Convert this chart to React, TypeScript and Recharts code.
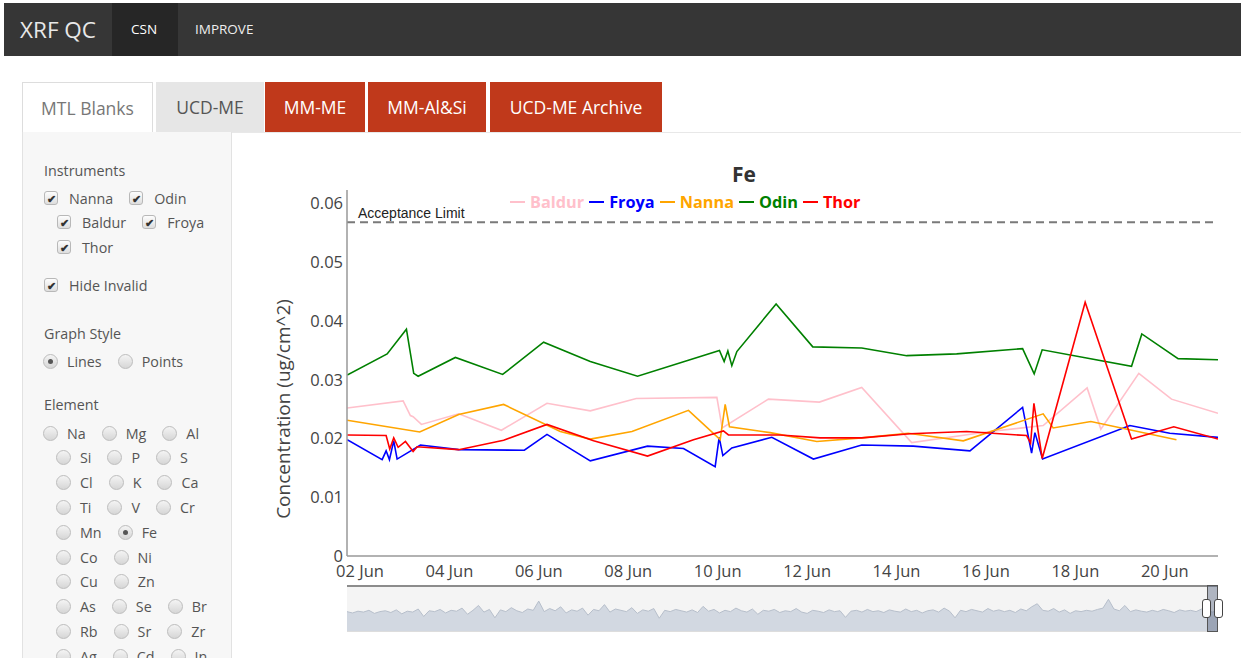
import React from "react";
import { Area, AreaChart, Line, LineChart, ReferenceLine, XAxis, YAxis } from "recharts";

// days counted from 02 Jun 00:00
const dayTicks = [0, 2, 4, 6, 8, 10, 12, 14, 16, 18];
const concTicks = [0, 0.01, 0.02, 0.03, 0.04, 0.05, 0.06];
const acceptanceLimit = 0.0568;

const baldur = [
  [-0.286, 0.0252], [0.965, 0.0264], [1.128, 0.0239], [1.189, 0.0237], [1.374, 0.0224],
  [2.208, 0.0242], [3.162, 0.0214], [4.183, 0.026], [5.151, 0.0247], [6.179, 0.0268],
  [7.982, 0.027], [8.101, 0.0218], [9.135, 0.0267], [10.275, 0.0262], [11.222, 0.0287],
  [12.339, 0.0193], [14.089, 0.0212], [15.28, 0.0222], [16.263, 0.0286], [16.57, 0.0216],
  [17.419, 0.0311], [18.15, 0.0267], [19.19, 0.0243]
];

const froya = [
  [-0.286, 0.0198], [0.496, 0.0164], [0.585, 0.0179], [0.659, 0.0164], [0.755, 0.0196],
  [0.831, 0.0165], [1.352, 0.0189], [2.208, 0.0181], [3.676, 0.018], [4.183, 0.0207],
  [5.151, 0.0162], [6.431, 0.0187], [7.236, 0.0183], [7.944, 0.0152], [8.034, 0.0202],
  [8.116, 0.0171], [8.317, 0.0184], [9.211, 0.0202], [10.141, 0.0165], [11.222, 0.0189],
  [12.375, 0.0187], [13.642, 0.0179], [14.82, 0.0253], [15.021, 0.0175], [15.095, 0.021],
  [15.267, 0.0165], [17.218, 0.0222], [18.112, 0.0209], [19.19, 0.0202]
];

const nanna = [
  [-0.286, 0.0231], [1.336, 0.0211], [2.208, 0.0241], [3.213, 0.0258], [4.48, 0.0212],
  [5.151, 0.0199], [6.083, 0.0212], [7.347, 0.0248], [8.056, 0.0198], [8.168, 0.0258],
  [8.264, 0.022], [9.173, 0.021], [10.217, 0.0195], [11.222, 0.0201], [12.263, 0.0209],
  [13.493, 0.0196], [15.28, 0.0242], [15.504, 0.0218], [16.346, 0.0229], [18.261, 0.0198]
];

const odin = [
  [-0.286, 0.0308], [0.608, 0.0344], [1.039, 0.0386], [1.202, 0.0311], [1.301, 0.0306],
  [2.134, 0.0338], [3.191, 0.0309], [4.107, 0.0364], [5.151, 0.0331], [6.208, 0.0306],
  [8.04, 0.035], [8.145, 0.0331], [8.228, 0.0349], [8.317, 0.0324], [8.429, 0.0348],
  [9.307, 0.0429], [10.127, 0.0356], [11.222, 0.0354], [12.228, 0.0341], [13.345, 0.0344],
  [14.82, 0.0353], [15.079, 0.031], [15.258, 0.0351], [17.256, 0.0323], [17.486, 0.0378],
  [18.297, 0.0336], [19.19, 0.0334]
];

const thor = [
  [-0.286, 0.0206], [0.585, 0.0205], [0.666, 0.0182], [0.755, 0.0201], [0.854, 0.0185],
  [1.017, 0.0195], [1.189, 0.0178], [1.278, 0.0186], [2.208, 0.0181], [3.213, 0.0197],
  [4.183, 0.0224], [5.225, 0.0196], [6.431, 0.017], [7.459, 0.0198], [8.129, 0.0213],
  [8.241, 0.0206], [9.397, 0.0206], [10.291, 0.0201], [11.222, 0.0201], [12.302, 0.0208],
  [13.569, 0.0212], [14.91, 0.0205], [14.999, 0.0192], [15.073, 0.026], [15.258, 0.0166],
  [16.219, 0.0432], [17.256, 0.0199], [18.201, 0.022], [19.19, 0.0199]
];

// range slider overview (relative height of the whole record)
const overview = [
  0.44, 0.41, 0.45, 0.43, 0.47, 0.4, 0.44, 0.46, 0.42, 0.48, 0.39, 0.45, 0.43, 0.5, 0.33, 0.46,
  0.44, 0.49, 0.41, 0.47, 0.45, 0.52, 0.38, 0.47, 0.58, 0.43, 0.49, 0.3, 0.48, 0.44, 0.53, 0.46,
  0.42, 0.5, 0.47, 0.68, 0.44, 0.51, 0.46, 0.55, 0.41, 0.48, 0.45, 0.52, 0.36, 0.49, 0.46, 0.6,
  0.43, 0.5, 0.47, 0.44, 0.53, 0.4, 0.48, 0.45, 0.51, 0.29, 0.47, 0.44, 0.49, 0.46, 0.43, 0.48,
  0.42, 0.56, 0.45, 0.49, 0.41, 0.47, 0.44, 0.52, 0.46, 0.43, 0.5, 0.38, 0.47, 0.45, 0.49, 0.42,
  0.46, 0.44, 0.51, 0.43, 0.4, 0.47, 0.45, 0.42, 0.48, 0.44, 0.46, 0.31, 0.45, 0.47, 0.43, 0.49,
  0.44, 0.46, 0.42, 0.48, 0.45, 0.43, 0.5, 0.44, 0.47, 0.41, 0.46, 0.48, 0.43, 0.52, 0.45, 0.3,
  0.47, 0.44, 0.49, 0.46, 0.43, 0.51, 0.45, 0.48, 0.44, 0.47, 0.42, 0.5, 0.46, 0.55, 0.62, 0.47,
  0.45, 0.51, 0.43, 0.48, 0.4, 0.46, 0.44, 0.47, 0.45, 0.49, 0.52, 0.72, 0.5, 0.46, 0.58, 0.44,
  0.48, 0.45, 0.43, 0.47, 0.44, 0.49, 0.46, 0.42, 0.48, 0.45, 0.47, 0.44, 0.5, 0.46, 0.43, 0.47
];

const series = [
  { name: "Baldur", color: "pink", points: baldur },
  { name: "Froya", color: "blue", points: froya },
  { name: "Nanna", color: "orange", points: nanna },
  { name: "Odin", color: "green", points: odin },
  { name: "Thor", color: "red", points: thor }
];

const instrumentRows = [
  { top: 198, left: 44, items: [{ label: "Nanna" }, { label: "Odin" }] },
  { top: 222, left: 57, items: [{ label: "Baldur" }, { label: "Froya" }] },
  { top: 247, left: 57, items: [{ label: "Thor" }] }
];

const elementRows = [
  ["Na", "Mg", "Al"], ["Si", "P", "S"], ["Cl", "K", "Ca"], ["Ti", "V", "Cr"], ["Mn", "Fe"],
  ["Co", "Ni"], ["Cu", "Zn"], ["As", "Se", "Br"], ["Rb", "Sr", "Zr"], ["Ag", "Cd", "In"]
];
const selectedElement = "Fe";

const font = "'Open Sans', sans-serif";
const fmtDay = (d: number) => `${String(d + 2).padStart(2, "0")} Jun`;

function CheckBox({ label, checked = true }: { label: string; checked?: boolean }) {
  return (
    <span style={{ display: "inline-flex", alignItems: "center", marginRight: 16 }}>
      <span
        style={{
          width: 12, height: 12, border: "1px solid #b8b8b8", borderRadius: 3,
          background: "linear-gradient(#fdfdfd, #dedede)", display: "inline-flex",
          alignItems: "center", justifyContent: "center", fontSize: 11, fontWeight: 700,
          color: "#333", lineHeight: 1
        }}
      >
        {checked ? "✔" : ""}
      </span>
      <span style={{ marginLeft: 11 }}>{label}</span>
    </span>
  );
}

function Radio({ label, checked }: { label: string; checked: boolean }) {
  return (
    <span style={{ display: "inline-flex", alignItems: "center", marginRight: 16 }}>
      <span
        style={{
          width: 13, height: 13, border: "1px solid #bdbdbd", borderRadius: "50%",
          background: "linear-gradient(#f4f4f4, #d6d6d6)", display: "inline-flex",
          alignItems: "center", justifyContent: "center"
        }}
      >
        {checked && <span style={{ width: 5, height: 5, borderRadius: "50%", background: "#555" }} />}
      </span>
      <span style={{ marginLeft: 9 }}>{label}</span>
    </span>
  );
}

const rowStyle = (top: number, left: number): React.CSSProperties => ({
  position: "absolute", top: top - 10, left, height: 20, display: "flex", alignItems: "center",
  whiteSpace: "nowrap"
});

const tabs = [
  { label: "MTL Blanks", left: 22, width: 131, bg: "#fff", color: "#777", border: "1px solid #ddd" },
  { label: "UCD-ME", left: 156, width: 108, bg: "#e6e6e6", color: "#555", border: "none" },
  { label: "MM-ME", left: 265, width: 100, bg: "#c0391b", color: "#fff", border: "none" },
  { label: "MM-Al&Si", left: 368, width: 118, bg: "#c0391b", color: "#fff", border: "none" },
  { label: "UCD-ME Archive", left: 490, width: 172, bg: "#c0391b", color: "#fff", border: "none" }
];

export default function App() {
  return (
    <div
      style={{
        position: "absolute", left: 0, top: 0, width: 1241, height: 658, overflow: "hidden",
        background: "#fff", fontFamily: font
      }}
    >
      {/* navbar */}
      <div style={{ position: "absolute", left: 4, top: 3, width: 1237, height: 53, background: "#363636" }}>
        <span style={{ position: "absolute", left: 16, top: 11, fontSize: 22.5, color: "#e8e8e8" }}>XRF QC</span>
        <div style={{ position: "absolute", left: 108, top: 0, width: 66, height: 53, background: "#262626" }} />
        <span style={{ position: "absolute", left: 127, top: 17, fontSize: 13.5, color: "#fff" }}>CSN</span>
        <span style={{ position: "absolute", left: 191, top: 17, fontSize: 13.5, color: "#eee" }}>IMPROVE</span>
      </div>

      {/* tabs */}
      {tabs.map((t) => (
        <div
          key={t.label}
          style={{
            position: "absolute", left: t.left, top: 82, width: t.width, height: 50, boxSizing: "border-box",
            background: t.bg, color: t.color, border: t.border, borderBottom: "none", fontSize: 17.5,
            display: "flex", alignItems: "center", justifyContent: "center"
          }}
        >
          {t.label}
        </div>
      ))}
      <div style={{ position: "absolute", left: 232, top: 132, width: 1009, height: 1, background: "#e8e8e8" }} />

      {/* sidebar */}
      <div
        style={{
          position: "absolute", left: 22, top: 132, width: 210, height: 540, boxSizing: "border-box",
          background: "#f7f7f7", borderLeft: "1px solid #e2e2e2", borderRight: "1px solid #e2e2e2"
        }}
      />
      <div style={{ fontSize: 14.3, color: "#555" }}>
        <div style={rowStyle(170, 44)}>Instruments</div>
        {instrumentRows.map((r) => (
          <div key={r.top} style={rowStyle(r.top, r.left)}>
            {r.items.map((it) => (
              <CheckBox key={it.label} label={it.label} />
            ))}
          </div>
        ))}
        <div style={rowStyle(285, 44)}>
          <CheckBox label="Hide Invalid" />
        </div>
        <div style={rowStyle(333, 44)}>Graph Style</div>
        <div style={rowStyle(361, 43)}>
          <Radio label="Lines" checked={true} />
          <Radio label="Points" checked={false} />
        </div>
        <div style={rowStyle(404, 44)}>Element</div>
        {elementRows.map((row, i) => (
          <div key={row[0]} style={rowStyle(433 + i * 24.8, i === 0 ? 43 : 56)}>
            {row.map((el) => (
              <Radio key={el} label={el} checked={el === selectedElement} />
            ))}
          </div>
        ))}
      </div>

      {/* chart title, legend, axis title */}
      <div
        style={{
          position: "absolute", left: 694, top: 160, width: 100, textAlign: "center", fontSize: 21,
          fontWeight: 700, color: "#333", lineHeight: "28px"
        }}
      >
        Fe
      </div>
      <div
        style={{
          position: "absolute", left: 510, top: 192, height: 20, display: "flex", alignItems: "center",
          fontSize: 16.3, fontWeight: 700, whiteSpace: "nowrap"
        }}
      >
        {series.map((s) => (
          <span key={s.name} style={{ display: "inline-flex", alignItems: "center", marginRight: 5, color: s.color }}>
            <span style={{ width: 15, height: 2, background: s.color, marginRight: 5 }} />
            {s.name}
          </span>
        ))}
      </div>
      <div
        style={{
          position: "absolute", left: 283, top: 409, transform: "translate(-50%, -50%) rotate(-90deg)",
          fontSize: 19, color: "#444", whiteSpace: "nowrap"
        }}
      >
        Concentration (ug/cm^2)
      </div>

      {/* main chart */}
      <div style={{ position: "absolute", left: 240, top: 150 }}>
        <LineChart width={1001} height={500} margin={{ top: 40, right: 23, left: 57, bottom: 64 }}>
          <XAxis
            type="number"
            dataKey="d"
            domain={[-0.29, 19.19]}
            ticks={dayTicks}
            allowDataOverflow
            tickFormatter={fmtDay}
            tickLine={false}
            tickSize={0}
            tickMargin={9}
            height={30}
            axisLine={{ stroke: "#999", strokeWidth: 1.5 }}
            tick={{ fontSize: 16.5, fill: "#444", fontFamily: font }}
          />
          <YAxis
            type="number"
            domain={[0, 0.0623]}
            ticks={concTicks}
            allowDataOverflow
            tickFormatter={(v: number) => (v === 0 ? "0" : v.toFixed(2))}
            tickLine={false}
            tickSize={0}
            tickMargin={4}
            width={50}
            axisLine={{ stroke: "#999", strokeWidth: 1.5 }}
            tick={{ fontSize: 16.5, fill: "#444", fontFamily: font }}
          />
          <ReferenceLine
            y={acceptanceLimit}
            stroke="#7a7a7a"
            strokeWidth={2}
            strokeDasharray="8 5"
            label={{
              value: "Acceptance Limit",
              position: "insideBottomLeft",
              offset: 4,
              dx: 7,
              fill: "#222",
              fontSize: 14,
              fontFamily: "'Liberation Sans', Arial, sans-serif"
            }}
          />
          {series.map((s) => (
            <Line
              key={s.name}
              name={s.name}
              data={s.points.map(([d, v]) => ({ d, v }))}
              dataKey="v"
              type="linear"
              stroke={s.color}
              strokeWidth={1.6}
              dot={false}
              isAnimationActive={false}
            />
          ))}
        </LineChart>
      </div>

      {/* range slider */}
      <div
        style={{
          position: "absolute", left: 347, top: 585, width: 871, height: 47, boxSizing: "border-box",
          background: "#f4f4f4", borderTop: "2px solid #8c8c8c", borderBottom: "1px solid #ddd"
        }}
      >
        <AreaChart width={871} height={44} data={overview.map((v, i) => ({ i, v }))} margin={{ top: 0, right: 0, left: 0, bottom: 0 }}>
          <XAxis dataKey="i" type="number" domain={["dataMin", "dataMax"]} hide />
          <YAxis domain={[0, 1]} hide />
          <Area
            type="linear"
            dataKey="v"
            stroke="#b7bfcb"
            strokeWidth={1}
            fill="#d2d8e1"
            fillOpacity={1}
            isAnimationActive={false}
          />
        </AreaChart>
      </div>
      <div
        style={{
          position: "absolute", left: 1207, top: 585, width: 11, height: 47, boxSizing: "border-box",
          background: "rgba(90,105,130,0.45)", border: "1px solid #555"
        }}
      />
      <div
        style={{
          position: "absolute", left: 1202, top: 599, width: 7, height: 17, borderRadius: 3,
          background: "#fff", border: "1px solid #444"
        }}
      />
      <div
        style={{
          position: "absolute", left: 1214, top: 599, width: 7, height: 17, borderRadius: 3,
          background: "#fff", border: "1px solid #444"
        }}
      />
    </div>
  );
}
